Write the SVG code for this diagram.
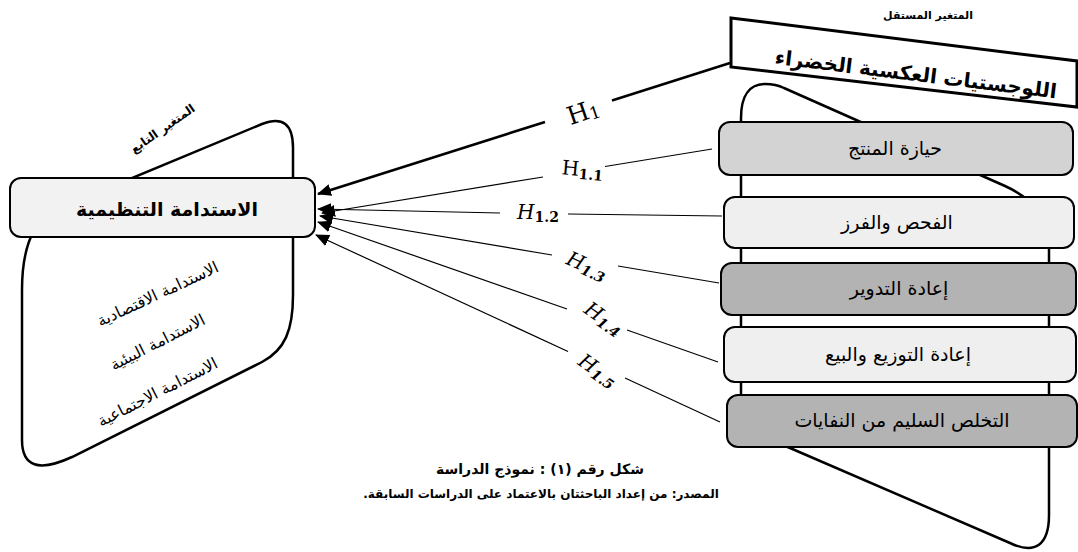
<svg xmlns="http://www.w3.org/2000/svg" width="1078" height="552" viewBox="0 0 1078 552">
<style>
.bg{fill:#fff}
.shape{fill:#fff;stroke:#000;stroke-width:2.5}
.box{stroke:#000;stroke-width:2}
.ar{font-family:"DejaVu Sans",sans-serif;fill:#000}
.bt{font-size:19px}
.hl{font-family:"DejaVu Serif",serif;fill:#000}
.thick{stroke:#000;stroke-width:2.6;fill:none}
.thin{stroke:#000;stroke-width:1.2;fill:none}
</style>
<defs>
<marker id="arr" markerUnits="userSpaceOnUse" markerWidth="14" markerHeight="12" viewBox="0 0 14 12" refX="13" refY="6" orient="auto">
<path d="M0,0 L14,6 L0,12 Z" fill="#000"/>
</marker>
</defs>
<rect class="bg" x="0" y="0" width="1078" height="552"/>

<g id="dependent-back">
<path class="shape" d="M48,213 L262,124 Q293,112 293,148 L293,295 C293,330 285,350 262,362 L72,457 Q22,480 22,440 L22,290 C22,255 30,228 48,213 Z"/>
<text class="ar" font-size="12" font-weight="bold" text-anchor="middle" direction="rtl" transform="translate(165,132) rotate(-35)">المتغير التابع</text>
<text class="ar" font-size="16" text-anchor="middle" direction="rtl" transform="translate(160,299) rotate(-25)">الاستدامة الاقتصادية</text>
<text class="ar" font-size="16" text-anchor="middle" direction="rtl" transform="translate(160,347) rotate(-27)">الاستدامة البيئية</text>
<text class="ar" font-size="16" text-anchor="middle" direction="rtl" transform="translate(160,397) rotate(-27)">الاستدامة الاجتماعية</text>
</g>

<g id="independent-back">
<path class="shape" d="M741,400 L741,118 C741,95 750,84 765,84 C772,84 778,85 784,88 L1005,186 Q1049,206 1049,245 L1049,515 C1049,545 1035,555 1010,543 L790,448 L762,436 Q743,427 741,400 Z"/>
</g>

<g id="node-org-sustainability">
<rect class="box" x="10" y="178" width="305" height="59" rx="11" fill="#f2f2f2"/>
<text class="ar" font-size="19" font-weight="bold" text-anchor="middle" direction="rtl" x="167" y="216">الاستدامة التنظيمية</text>
</g>

<g id="node-green-reverse-logistics">
<text class="ar" font-size="11" font-weight="bold" text-anchor="middle" direction="rtl" x="928" y="19">المتغير المستقل</text>
<polygon points="731,18 1077,61 1077,107 731,67" fill="#fff" stroke="#000" stroke-width="3"/>
<text class="ar" font-size="20" font-weight="bold" text-anchor="middle" direction="rtl" transform="translate(915,81) rotate(7)">اللوجستيات العكسية الخضراء</text>
</g>

<g id="node-product-acquisition">
<rect class="box" x="719" y="122" width="354" height="53" rx="11" fill="#d3d3d3"/>
<text class="ar bt" text-anchor="middle" direction="rtl" x="895" y="155">حيازة المنتج</text>
</g>
<g id="node-inspection-sorting">
<rect class="box" x="724" y="197" width="350" height="51" rx="11" fill="#efefef"/>
<text class="ar bt" text-anchor="middle" direction="rtl" x="897" y="229">الفحص والفرز</text>
</g>
<g id="node-recycling">
<rect class="box" x="721" y="263" width="355" height="52" rx="11" fill="#b3b3b3"/>
<text class="ar bt" text-anchor="middle" direction="rtl" x="899" y="295">إعادة التدوير</text>
</g>
<g id="node-redistribution">
<rect class="box" x="724" y="327" width="352" height="55" rx="11" fill="#efefef"/>
<text class="ar bt" text-anchor="middle" direction="rtl" x="898" y="361">إعادة التوزيع والبيع</text>
</g>
<g id="node-disposal">
<rect class="box" x="727" y="395" width="350" height="52" rx="11" fill="#b3b3b3"/>
<text class="ar bt" text-anchor="middle" direction="rtl" x="902" y="427">التخلص السليم من النفايات</text>
</g>

<g id="connectors">
<line class="thick" x1="730" y1="63" x2="612" y2="100.5"/>
<line class="thick" x1="545" y1="122" x2="318" y2="194" marker-end="url(#arr)"/>
<line class="thin" x1="712" y1="149" x2="605" y2="166.5"/>
<line class="thin" x1="543" y1="177" x2="322" y2="213" marker-end="url(#arr)"/>
<line class="thin" x1="722" y1="216" x2="568" y2="214"/>
<line class="thin" x1="500" y1="213" x2="318" y2="209" marker-end="url(#arr)"/>
<line class="thin" x1="719" y1="283" x2="618" y2="266"/>
<line class="thin" x1="552" y1="255" x2="320" y2="216" marker-end="url(#arr)"/>
<line class="thin" x1="718" y1="362" x2="627" y2="330"/>
<line class="thin" x1="567" y1="309" x2="318" y2="222" marker-end="url(#arr)"/>
<line class="thin" x1="720" y1="422" x2="625" y2="378"/>
<line class="thin" x1="568" y1="351.5" x2="316" y2="235" marker-end="url(#arr)"/>
<text class="hl" font-size="25" text-anchor="middle" transform="translate(586,120) rotate(-19)">H<tspan font-size="17" dy="2">1</tspan></text>
<text class="hl" font-size="20" text-anchor="middle" transform="translate(582,176) rotate(5)">H<tspan font-size="14" font-weight="bold" dy="3">1.1</tspan></text>
<text class="hl" font-size="20" text-anchor="middle" x="538" y="219"><tspan font-style="italic">H</tspan><tspan font-size="14" font-weight="bold" dy="3">1.2</tspan></text>
<text class="hl" font-size="20" text-anchor="middle" transform="translate(584,272) rotate(24)"><tspan font-style="italic">H</tspan><tspan font-size="14" font-weight="bold" font-style="italic" dy="3">1.3</tspan></text>
<text class="hl" font-size="20" text-anchor="middle" transform="translate(600,324) rotate(35)"><tspan font-style="italic">H</tspan><tspan font-size="14" font-weight="bold" font-style="italic" dy="3">1.4</tspan></text>
<text class="hl" font-size="20" text-anchor="middle" transform="translate(594,376) rotate(35)"><tspan font-style="italic">H</tspan><tspan font-size="14" font-weight="bold" font-style="italic" dy="3">1.5</tspan></text>
</g>

<g id="captions">
<text class="ar" font-size="14" font-weight="bold" text-anchor="middle" direction="rtl" x="540" y="474">شكل رقم (١) : نموذج الدراسة</text>
<text class="ar" font-size="12" font-weight="bold" text-anchor="middle" direction="rtl" x="541" y="498">المصدر: من إعداد الباحثتان بالاعتماد على الدراسات السابقة.</text>
</g>
</svg>
